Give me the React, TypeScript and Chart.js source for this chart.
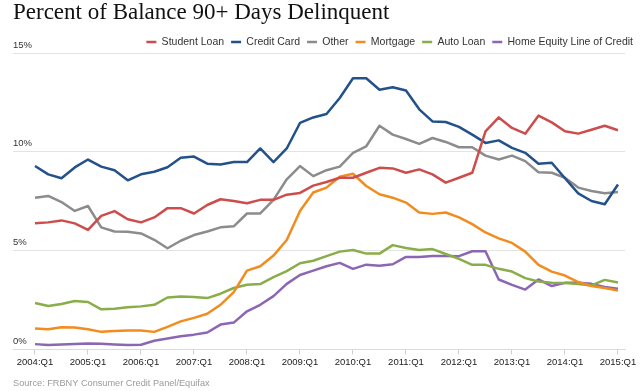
import React, { useEffect, useRef } from "react";
import { Chart, registerables } from "chart.js";

Chart.register(...registerables);

const TITLE = "Percent of Balance 90+ Days Delinquent";
const SOURCE = "Source: FRBNY Consumer Credit Panel/Equifax";

const years = [2004, 2005, 2006, 2007, 2008, 2009, 2010, 2011, 2012, 2013, 2014, 2015];
const quarters: string[] = [];
years.forEach((y) => {
  ["Q1", "Q2", "Q3", "Q4"].forEach((q) => {
    if (y < 2015 || q === "Q1") quarters.push(`${y}:${q}`);
  });
});

const tickLabels = [
  "2004:Q1", "2005:Q1", "2006:Q1", "2007:Q1", "2008:Q1", "2009:Q1",
  "2010:Q1", "2011:Q1", "2012:Q1", "2013:Q1", "2014:Q1", "2015:Q1",
];
const yTicks = [0, 5, 10, 15];

const studentLoan = [6.38, 6.43, 6.53, 6.38, 6.05, 6.76, 7.0, 6.59, 6.43, 6.68, 7.15, 7.15, 6.88, 7.31, 7.6, 7.51, 7.4, 7.57, 7.57, 7.83, 7.92, 8.29, 8.47, 8.69, 8.69, 8.94, 9.19, 9.16, 8.94, 9.11, 8.86, 8.44, 8.69, 8.94, 11.04, 11.74, 11.21, 10.92, 11.83, 11.49, 11.04, 10.92, 11.12, 11.32, 11.09];
const creditCard = [9.28, 8.86, 8.66, 9.21, 9.61, 9.25, 9.07, 8.56, 8.86, 8.99, 9.22, 9.7, 9.76, 9.4, 9.36, 9.48, 9.48, 10.17, 9.48, 10.17, 11.46, 11.74, 11.91, 12.72, 13.72, 13.72, 13.14, 13.27, 13.1, 12.15, 11.54, 11.51, 11.26, 10.87, 10.45, 10.58, 10.2, 9.95, 9.4, 9.45, 8.66, 7.9, 7.51, 7.35, 8.35];
const other = [7.68, 7.77, 7.46, 7.01, 7.26, 6.18, 5.97, 5.95, 5.87, 5.55, 5.12, 5.5, 5.79, 5.97, 6.18, 6.23, 6.88, 6.88, 7.57, 8.61, 9.28, 8.77, 9.07, 9.25, 9.95, 10.28, 11.32, 10.87, 10.65, 10.4, 10.7, 10.5, 10.23, 10.23, 9.81, 9.61, 9.81, 9.53, 8.97, 8.94, 8.69, 8.19, 8.02, 7.9, 7.97];
const mortgage = [1.06, 1.02, 1.12, 1.11, 1.02, 0.89, 0.94, 0.96, 0.96, 0.89, 1.14, 1.42, 1.6, 1.81, 2.26, 2.9, 3.99, 4.21, 4.75, 5.54, 7.01, 7.94, 8.19, 8.74, 8.89, 8.27, 7.85, 7.68, 7.43, 6.93, 6.86, 6.93, 6.68, 6.34, 5.92, 5.62, 5.39, 4.95, 4.28, 3.94, 3.74, 3.41, 3.21, 3.11, 2.98];
const autoLoan = [2.35, 2.2, 2.3, 2.45, 2.4, 2.03, 2.06, 2.13, 2.18, 2.26, 2.63, 2.68, 2.65, 2.6, 2.82, 3.11, 3.27, 3.31, 3.66, 3.96, 4.36, 4.49, 4.72, 4.95, 5.03, 4.85, 4.85, 5.28, 5.13, 5.03, 5.08, 4.83, 4.58, 4.28, 4.28, 4.08, 3.94, 3.61, 3.44, 3.37, 3.36, 3.31, 3.24, 3.52, 3.39];
const heloc = [0.27, 0.22, 0.25, 0.27, 0.3, 0.29, 0.25, 0.22, 0.24, 0.44, 0.55, 0.67, 0.75, 0.86, 1.26, 1.36, 1.93, 2.26, 2.7, 3.32, 3.77, 3.99, 4.21, 4.38, 4.08, 4.29, 4.24, 4.31, 4.68, 4.68, 4.73, 4.73, 4.72, 4.97, 4.97, 3.54, 3.27, 3.03, 3.54, 3.21, 3.37, 3.37, 3.32, 3.16, 3.07];

const seriesLabels = ["Student Loan", "Credit Card", "Other", "Mortgage", "Auto Loan", "Home Equity Line of Credit"];
const seriesValues = [studentLoan, creditCard, other, mortgage, autoLoan, heloc];
const seriesColors = ["#cd4d4d", "#23518a", "#8c8c8c", "#f28c1f", "#89ad48", "#8c66b3"];

const SANS = "'Liberation Sans', Arial, Helvetica, sans-serif";

const legendShift = {
  id: "legendShift",
  afterLayout(chart: any) {
    const l = chart.legend;
    if (l) {
      l.top += 4.25;
      l.bottom += 4.25;
    }
  },
};

export default function App() {
  const ref = useRef<HTMLCanvasElement | null>(null);
  useEffect(() => {
    if (!ref.current) return;
    Chart.defaults.font.family = SANS;
    const tickIdx = tickLabels.map((l) => quarters.indexOf(l));
    const chart = new Chart(ref.current, {
      type: "line",
      data: {
        datasets: seriesLabels.map((label, k) => ({
          label,
          data: seriesValues[k].map((v, i) => ({ x: i, y: v })),
          borderColor: seriesColors[k],
          backgroundColor: seriesColors[k],
          borderWidth: 2.5,
          pointRadius: 0,
          tension: 0,
          fill: false,
          borderJoinStyle: "round",
          borderCapStyle: "butt",
        })),
      },
      options: {
        responsive: false,
        animation: false,
        layout: { padding: { left: 13, right: 0, top: 0, bottom: 0 } },
        plugins: {
          title: {
            display: true,
            text: TITLE,
            align: "start",
            color: "#111",
            font: { family: "'Liberation Serif', 'Times New Roman', serif", size: 23, weight: "normal", lineHeight: 1 },
            padding: { top: 1, bottom: 1.5 },
          },
          subtitle: {
            display: true,
            position: "bottom",
            align: "start",
            text: SOURCE,
            color: "#9a9a9a",
            font: { family: SANS, size: 9.2, weight: "normal", lineHeight: 1.2 },
            padding: { top: 8.5, bottom: 1.6 },
          },
          legend: {
            position: "top",
            align: "end",
            labels: {
              usePointStyle: true,
              pointStyle: "line",
              pointStyleWidth: 10,
              padding: 7,
              color: "#333",
              font: { family: SANS, size: 10.5 },
            },
          },
          tooltip: { enabled: false },
        },
        scales: {
          x: {
            type: "linear",
            min: -1.66,
            max: 44.53,
            afterBuildTicks: (s: any) => {
              s.ticks = tickIdx.map((v) => ({ value: v }));
            },
            afterFit: (s: any) => {
              s.paddingLeft = 0;
              s.paddingRight = 15;
            },
            ticks: {
              callback: (v: any) => quarters[v] ?? "",
              maxRotation: 0,
              autoSkip: false,
              padding: 2,
              color: "#222",
              font: { family: SANS, size: 9.5 },
            },
            grid: { drawOnChartArea: false, drawTicks: true, tickLength: 5, color: "#cfcfcf" },
            border: { display: true, color: "#dcdcdc" },
          },
          y: {
            min: 0,
            max: 15,
            afterBuildTicks: (s: any) => {
              s.ticks = yTicks.map((v) => ({ value: v }));
            },
            ticks: {
              mirror: true,
              padding: 0,
              labelOffset: -8,
              callback: (v: any) => v + "%",
              color: "#333",
              font: { family: SANS, size: 9.5 },
            },
            grid: { color: "#e3e3e3", drawTicks: false, lineWidth: 1 },
            border: { display: false },
          },
        },
      },
      plugins: [legendShift],
    } as any);
    return () => chart.destroy();
  }, []);
  return (
    <div style={{ position: "absolute", left: 0, top: 0, width: 640, height: 391, background: "#fff" }}>
      <canvas ref={ref} width={640} height={391} style={{ display: "block" }} />
    </div>
  );
}
